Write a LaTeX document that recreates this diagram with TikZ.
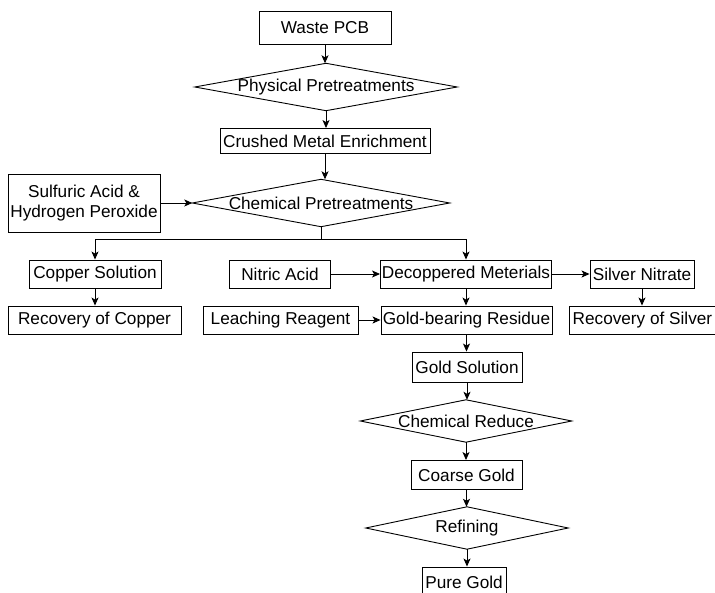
\documentclass[tikz,border=0pt]{standalone}
\usepackage{fontspec}
\setmainfont{Liberation Sans}
\usetikzlibrary{arrows.meta}
\begin{document}
\begin{tikzpicture}[x=1pt,y=-1pt,
  every node/.style={font=\fontsize{17.2}{20}\selectfont, inner sep=0pt, align=center},
  box/.style={draw, line width=0.9pt, minimum height=28pt},
  dia/.style={minimum height=42pt},
  arr/.style={line width=0.9pt, -{Stealth[length=8pt,width=7pt,inset=2pt]}},
  ln/.style={line width=0.9pt}]
\useasboundingbox (0,0) rectangle (715,593);
\node[box, minimum width=132pt, minimum height=33pt] (waste) at (325,28) {Waste PCB};
\node[dia, minimum width=262pt, minimum height=47pt] (phys) at (326,87) {Physical Pretreatments};
\node[box, minimum width=210pt, minimum height=25pt] (crushed) at (325,141) {Crushed Metal Enrichment};
\node[dia, minimum width=257pt, minimum height=47pt] (chem) at (321,203) {Chemical Pretreatments};
\node[box, minimum width=152pt, minimum height=58pt] (sulf) at (84,203) {Sulfuric Acid \&\\Hydrogen Peroxide};
\node[box, minimum width=132pt] (copper) at (95,274) {Copper Solution};
\node[box, minimum width=101pt] (nitric) at (280,274) {Nitric Acid};
\node[box, minimum width=171pt] (decop) at (466,274) {Decoppered Meterials};
\node[box, minimum width=104pt] (silver) at (642,274) {Silver Nitrate};
\node[box, minimum width=173pt] (reccopper) at (94.5,320) {Recovery of Copper};
\node[box, minimum width=155pt] (leach) at (280.5,320) {Leaching Reagent};
\node[box, minimum width=171pt] (goldres) at (466.5,320) {Gold-bearing Residue};
\node[box, minimum width=154pt, anchor=west] (recsilver) at (569,320) {\hspace*{-4pt}Recovery of Silver\hspace*{4pt}};
\node[box, minimum width=110pt, minimum height=30pt] (goldsol) at (467,367) {Gold Solution};
\node[dia, minimum width=211pt, minimum height=42pt] (chemred) at (466,421) {Chemical Reduce};
\node[box, minimum width=111pt, minimum height=29pt] (coarse) at (466.5,475) {Coarse Gold};
\node[dia, minimum width=202pt, minimum height=42pt] (refining) at (467,528) {Refining};
\node[box, minimum width=84pt, minimum height=30pt] (pure) at (464,582) {Pure Gold};
\foreach \d in {phys,chem,chemred,refining}
  \draw[ln] (\d.west) -- (\d.north) -- (\d.east) -- (\d.south) -- cycle;
\draw[arr] (waste.south) -- (waste.south |- phys.north);
\draw[arr] (phys.south) -- (phys.south |- crushed.north);
\draw[arr] (crushed.south) -- (crushed.south |- chem.north);
\draw[arr] (sulf.east) -- (chem.west);
\draw[ln] (chem.south) -- ++(0,13) coordinate (br);
\draw[arr] (br) -| (copper.north);
\draw[arr] (br) -| (decop.north);
\draw[arr] (copper.south) -- (copper.south |- reccopper.north);
\draw[arr] (nitric.east) -- (decop.west);
\draw[arr] (decop.east) -- (silver.west);
\draw[arr] (silver.south) -- (silver.south |- recsilver.north);
\draw[arr] (decop.south) -- (decop.south |- goldres.north);
\draw[arr] (leach.east) -- (goldres.west);
\draw[arr] (goldres.south) -- (goldres.south |- goldsol.north);
\draw[arr] (goldsol.south) -- (goldsol.south |- chemred.north);
\draw[arr] (chemred.south) -- (chemred.south |- coarse.north);
\draw[arr] (coarse.south) -- (coarse.south |- refining.north);
\draw[arr] (refining.south) -- (refining.south |- pure.north);
\end{tikzpicture}
\end{document}
